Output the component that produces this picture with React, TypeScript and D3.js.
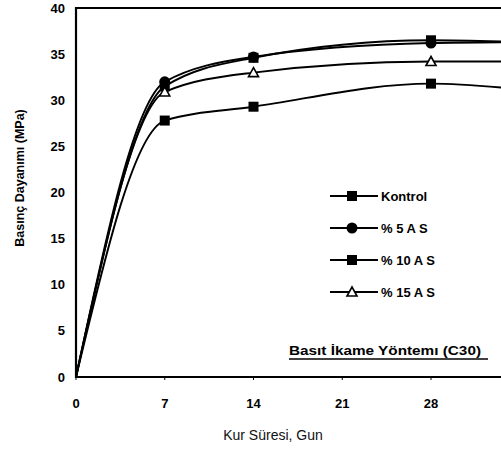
import React from "react";
import * as d3 from "d3";

const days = [0, 7, 14, 28, 35];
const markerDays = [7, 14, 28];
const kontrol = [0, 27.8, 29.3, 31.8, 31.2];
const as5 = [0, 32.0, 34.7, 36.2, 36.3];
const as10 = [0, 31.5, 34.6, 36.5, 36.3];
const as15 = [0, 30.9, 33.0, 34.2, 34.2];
const seriesNames = ["Kontrol", "% 5 A S", "% 10 A S", "% 15 A S"];
const seriesMarkers = ["square", "circle", "square", "triangle"];
const xTicks = [0, 7, 14, 21, 28];
const yTicks = [0, 5, 10, 15, 20, 25, 30, 35, 40];

const W = 501;
const H = 450;
const FONT = "'Liberation Sans', Arial, sans-serif";

function Marker({ type, x, y }: { type: string; x: number; y: number }) {
  if (type === "circle") return <circle cx={x} cy={y} r={5.5} fill="#000" />;
  if (type === "square")
    return <rect x={x - 5} y={y - 5} width={10} height={10} fill="#000" />;
  return (
    <path
      d={`M${x},${y - 5}L${x + 5},${y + 4}L${x - 5},${y + 4}Z`}
      fill="#fff"
      stroke="#000"
      strokeWidth={1.6}
    />
  );
}

export default function App() {
  const x = d3.scaleLinear().domain([0, 28]).range([76, 431]);
  const y = d3.scaleLinear().domain([0, 40]).range([377, 8]);
  const all = [kontrol, as5, as10, as15];
  const line = d3
    .line<number>()
    .x((_, i) => x(days[i]))
    .y((d) => y(d))
    .curve(d3.curveMonotoneX);

  return (
    <svg
      width={W}
      height={H}
      style={{ position: "absolute", left: 0, top: 0, background: "#fff" }}
      fontFamily={FONT}
    >
      <defs>
        <clipPath id="plot">
          <rect x={76} y={0} width={W - 76} height={378} />
        </clipPath>
      </defs>
      <rect width={W} height={H} fill="#fff" />
      {/* frame */}
      <line x1={76} x2={W} y1={y(40)} y2={y(40)} stroke="#000" strokeWidth={2} />
      <line x1={76} x2={W} y1={y(0)} y2={y(0)} stroke="#000" strokeWidth={2} />
      <line x1={76} x2={76} y1={y(40) - 1} y2={y(0) + 1} stroke="#000" strokeWidth={2.2} />
      {xTicks.map((t) => (
        <g key={t}>
          <line x1={x(t)} x2={x(t)} y1={y(0)} y2={y(0) + 3} stroke="#000" strokeWidth={1} />
          <text x={x(t)} y={408} textAnchor="middle" fontSize={13} fontWeight="bold">
            {t}
          </text>
        </g>
      ))}
      {yTicks.map((t) => (
        <text key={t} x={65} y={y(t) + 4.5} textAnchor="end" fontSize={13} fontWeight="bold">
          {t}
        </text>
      ))}
      <g clipPath="url(#plot)">
        {all.map((s, i) => (
          <path key={i} d={line(s) || ""} fill="none" stroke="#000" strokeWidth={1.9} />
        ))}
        {all.map((s, i) =>
          markerDays.map((md) => {
            const idx = days.indexOf(md);
            return <Marker key={i + "-" + md} type={seriesMarkers[i]} x={x(md)} y={y(s[idx])} />;
          })
        )}
      </g>
      {/* legend */}
      {seriesNames.map((n, i) => {
        const ly = 196 + i * 32;
        return (
          <g key={n}>
            <line x1={330} x2={378} y1={ly} y2={ly} stroke="#000" strokeWidth={1.8} />
            <Marker type={seriesMarkers[i]} x={352} y={ly} />
            <text x={381} y={ly + 5} fontSize={13} fontWeight="bold">
              {n}
            </text>
          </g>
        );
      })}
      <text x={289} y={355} fontSize={13.5} fontWeight="bold" textLength={192} lengthAdjust="spacingAndGlyphs">
        Basıt İkame Yöntemı (C30)
      </text>
      <line x1={289} x2={488} y1={359} y2={359} stroke="#000" strokeWidth={1.5} />
      <text
        transform={`translate(24,178) rotate(-90)`}
        textAnchor="middle"
        fontSize={12.5}
        fontWeight="bold"
      >
        Basınç Dayanımı (MPa)
      </text>
      <text x={273} y={440} textAnchor="middle" fontSize={14} fill="#111">
        Kur Süresi,  Gun
      </text>
    </svg>
  );
}
